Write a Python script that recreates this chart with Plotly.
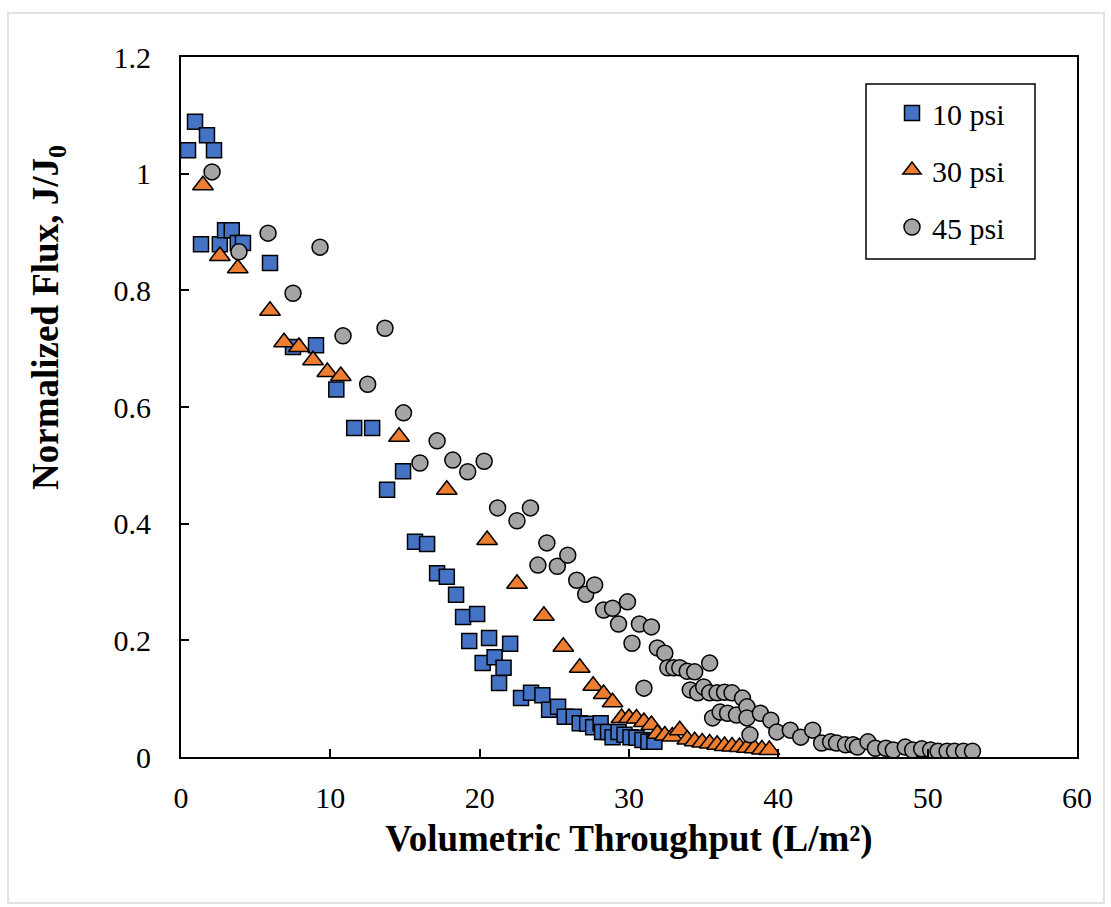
import plotly.graph_objects as go

# 10 psi
sq_x = [0.47, 0.94, 1.74, 2.21, 1.34, 2.6, 2.95, 3.4, 3.8, 4.15, 5.96, 7.5, 9.04, 10.4, 11.6, 12.8,
        13.8, 14.87, 15.67, 16.48, 17.15, 17.8, 18.42, 18.89, 19.3, 19.83, 20.2, 20.63, 21.0, 21.3,
        21.6, 22.04, 22.77, 23.44, 24.2, 24.65, 25.25, 25.7, 26.3, 26.7, 27.2, 27.6, 28.1, 28.2,
        28.6, 28.9, 29.3, 29.7, 30.1, 30.5, 30.9, 31.3, 31.7]
sq_y = [1.04, 1.089, 1.066, 1.04, 0.879, 0.879, 0.903, 0.903, 0.881, 0.881, 0.847, 0.703, 0.706,
        0.63, 0.564, 0.564, 0.458, 0.49, 0.369, 0.365, 0.315, 0.309, 0.278, 0.24, 0.199, 0.245,
        0.161, 0.204, 0.171, 0.127, 0.153, 0.194, 0.101, 0.11, 0.106, 0.081, 0.086, 0.069, 0.069,
        0.058, 0.057, 0.051, 0.058, 0.043, 0.043, 0.034, 0.043, 0.038, 0.034, 0.033, 0.029, 0.026,
        0.026]

# 30 psi
tr_x = [1.47, 2.6, 3.8, 5.96, 6.9, 7.9, 8.84, 9.8, 10.7, 14.6, 17.8, 20.5, 22.5, 24.3, 25.6, 26.7,
        27.6, 28.3, 28.9, 29.5, 30.0, 30.5, 31.0, 31.5, 31.9, 32.4, 32.9, 33.4, 33.9, 34.4, 34.9,
        35.4, 35.9, 36.4, 36.9, 37.4, 37.9, 38.4, 38.9, 39.4]
tr_y = [0.98, 0.859, 0.838, 0.765, 0.711, 0.703, 0.68, 0.66, 0.653, 0.549, 0.458, 0.372, 0.297,
        0.242, 0.189, 0.153, 0.122, 0.108, 0.094, 0.067, 0.067, 0.066, 0.06, 0.055, 0.04, 0.037,
        0.035, 0.046, 0.03, 0.027, 0.025, 0.023, 0.021, 0.019, 0.018, 0.017, 0.016, 0.015, 0.013,
        0.012]

# 45 psi
ci_x = [2.08, 3.88, 5.83, 7.5, 9.31, 10.85, 12.5, 13.66, 14.9, 16.0, 17.15, 18.2, 19.2, 20.3, 21.2,
        22.5, 23.4, 23.9, 24.5, 25.2, 25.9, 26.5, 27.1, 27.7, 28.3, 28.9, 29.3, 29.9, 30.2, 30.7,
        31.0, 31.5, 31.9, 32.4, 32.6, 33.0, 33.4, 33.9, 34.1, 34.4, 34.6, 35.0, 35.4, 35.4, 35.6,
        35.9, 36.1, 36.4, 36.6, 36.9, 37.2, 37.6, 37.9, 37.9, 38.1, 38.8, 39.5, 39.9, 40.8, 41.5,
        42.3, 42.9, 43.5, 43.9, 44.5, 45.0, 45.3, 46.0, 46.5, 47.2, 47.7, 48.5, 49.0, 49.6, 50.2,
        50.7, 51.3, 51.8, 52.4, 53.0]
ci_y = [1.003, 0.866, 0.898, 0.795, 0.874, 0.722, 0.639, 0.735, 0.59, 0.504, 0.542, 0.509, 0.489,
        0.507, 0.427, 0.405, 0.427, 0.329, 0.367, 0.327, 0.346, 0.303, 0.279, 0.295, 0.252, 0.255,
        0.228, 0.266, 0.195, 0.228, 0.118, 0.223, 0.187, 0.178, 0.153, 0.153, 0.153, 0.147, 0.115,
        0.146, 0.11, 0.12, 0.161, 0.11, 0.067, 0.11, 0.077, 0.111, 0.075, 0.11, 0.072, 0.101,
        0.086, 0.067, 0.038, 0.075, 0.063, 0.043, 0.046, 0.034, 0.046, 0.024, 0.026, 0.024, 0.021,
        0.021, 0.017, 0.026, 0.015, 0.015, 0.012, 0.017, 0.012, 0.014, 0.012, 0.01, 0.01, 0.01,
        0.01, 0.01]

names = ["10 psi", "30 psi", "45 psi"]
x_title = "<b>Volumetric Throughput (L/m²)</b>"
y_title = "<b>Normalized Flux, J/J<sub>0</sub></b>"
FONT = "Liberation Serif, Times New Roman, serif"

fig = go.Figure()
fig.add_trace(go.Scatter(x=sq_x, y=sq_y, mode="markers", name=names[0], legendgroup="a",
                         marker=dict(symbol="square", size=15, color="#4472C4",
                                     line=dict(color="black", width=1.5))))
fig.add_trace(go.Scatter(x=tr_x, y=tr_y, mode="markers", name=names[1], legendgroup="b",
                         marker=dict(symbol="triangle-up", size=18, color="#ED7D31",
                                     line=dict(color="black", width=1.5))))
fig.add_trace(go.Scatter(x=ci_x, y=ci_y, mode="markers", name=names[2], legendgroup="c",
                         marker=dict(symbol="circle", size=16, color="#A5A5A5",
                                     line=dict(color="black", width=1.5))))

L, R, T, B = 181, 34, 57, 150
W, H = 1111, 907
pw, ph = W - L - R, H - T - B

def px2paper_x(px):
    return (px - L) / pw

def px2paper_y(py):
    return (H - B - py) / ph

fig.update_layout(
    width=W, height=H,
    margin=dict(l=L, r=R, t=T, b=B),
    paper_bgcolor="white", plot_bgcolor="white",
    font=dict(family=FONT, color="black", size=30),
    showlegend=True,
    legend=dict(x=px2paper_x(892), y=px2paper_y(87), xanchor="left", yanchor="top",
                bgcolor="rgba(0,0,0,0)", borderwidth=0, tracegroupgap=15,
                font=dict(family=FONT, size=30, color="black")),
    xaxis=dict(range=[0, 60], dtick=10, tick0=0, ticks="inside", ticklen=8, tickwidth=1.5,
               tickcolor="black", showline=True, linecolor="black", linewidth=2, mirror=True,
               showgrid=False, zeroline=False, ticklabelstandoff=13,
               tickfont=dict(family=FONT, size=30),
               title=dict(text=x_title, standoff=12, font=dict(family=FONT, size=37))),
    yaxis=dict(range=[0, 1.2], dtick=0.2, tick0=0, ticks="inside", ticklen=8, tickwidth=1.5,
               tickcolor="black", showline=True, linecolor="black", linewidth=2, mirror=True,
               showgrid=False, zeroline=False, ticklabelstandoff=22,
               tickfont=dict(family=FONT, size=30)),
    annotations=[
        dict(text=y_title, textangle=-90, xref="paper", yref="paper",
             x=px2paper_x(48), y=px2paper_y(318), xanchor="center", yanchor="middle",
             showarrow=False, font=dict(family=FONT, size=37, color="black")),
    ],
    shapes=[
        dict(type="rect", xref="paper", yref="paper",
             x0=px2paper_x(866), x1=px2paper_x(1035), y0=px2paper_y(259), y1=px2paper_y(84),
             line=dict(color="black", width=1.5), fillcolor="rgba(0,0,0,0)", layer="above"),
        dict(type="rect", xref="paper", yref="paper",
             x0=px2paper_x(8), x1=px2paper_x(1104), y0=px2paper_y(903), y1=px2paper_y(13),
             line=dict(color="#D9D9D9", width=1.5), fillcolor="rgba(0,0,0,0)", layer="below"),
    ],
)

fig.write_html("out.html")
